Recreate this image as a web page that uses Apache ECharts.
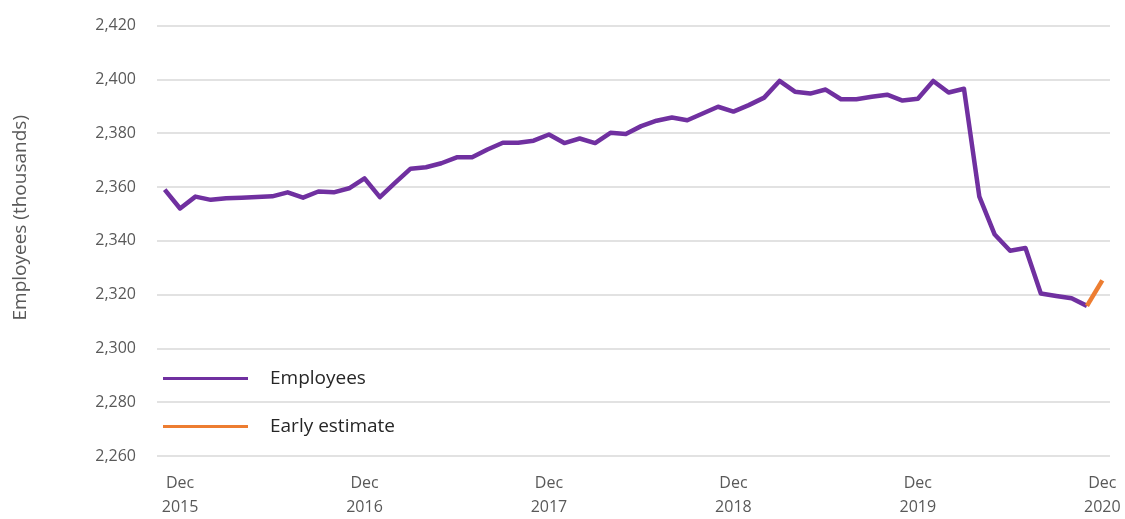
<!DOCTYPE html>
<html>
<head>
<meta charset="utf-8">
<script src="https://cdn.jsdelivr.net/npm/echarts@6/dist/echarts.min.js"></script>
<style>
  html, body { margin: 0; padding: 0; background: #fff; }
  #chart { width: 1125px; height: 519px; }
</style>
</head>
<body>
<div id="chart"></div>
<script>
// months, Nov 2015 .. Dec 2020
var months = [
  'Nov 2015', 'Dec 2015',
  'Jan 2016', 'Feb 2016', 'Mar 2016', 'Apr 2016', 'May 2016', 'Jun 2016', 'Jul 2016', 'Aug 2016', 'Sep 2016', 'Oct 2016', 'Nov 2016', 'Dec 2016',
  'Jan 2017', 'Feb 2017', 'Mar 2017', 'Apr 2017', 'May 2017', 'Jun 2017', 'Jul 2017', 'Aug 2017', 'Sep 2017', 'Oct 2017', 'Nov 2017', 'Dec 2017',
  'Jan 2018', 'Feb 2018', 'Mar 2018', 'Apr 2018', 'May 2018', 'Jun 2018', 'Jul 2018', 'Aug 2018', 'Sep 2018', 'Oct 2018', 'Nov 2018', 'Dec 2018',
  'Jan 2019', 'Feb 2019', 'Mar 2019', 'Apr 2019', 'May 2019', 'Jun 2019', 'Jul 2019', 'Aug 2019', 'Sep 2019', 'Oct 2019', 'Nov 2019', 'Dec 2019',
  'Jan 2020', 'Feb 2020', 'Mar 2020', 'Apr 2020', 'May 2020', 'Jun 2020', 'Jul 2020', 'Aug 2020', 'Sep 2020', 'Oct 2020', 'Nov 2020', 'Dec 2020'
]

// employees (thousands), Nov 2015 .. Nov 2020
var employees = [
  2359, 2352,
  2356.4, 2355.2, 2355.8, 2356, 2356.3, 2356.5, 2358, 2356, 2358.3, 2358, 2359.5, 2363.2,
  2356.2, 2361.6, 2366.8, 2367.3, 2368.8, 2371, 2371, 2373.9, 2376.4, 2376.4, 2377.2, 2379.5,
  2376.3, 2378, 2376.3, 2380.1, 2379.7, 2382.6, 2384.6, 2385.8, 2384.8, 2387.3, 2389.8, 2388,
  2390.4, 2393.2, 2399.4, 2395.4, 2394.7, 2396.2, 2392.6, 2392.6, 2393.5, 2394.3, 2392.1, 2392.8,
  2399.4, 2395.1, 2396.5, 2356.4, 2342.3, 2336.3, 2337.3, 2320.4, 2319.5, 2318.6, 2315.8, null
]

// early estimate, Nov 2020 .. Dec 2020
var earlyEstimate = employees.slice(0, 60).map(function() { return null })
earlyEstimate.push(2315.8, 2325.3)

var yTicks = { min: 2260, max: 2420, step: 20 }

var textColor = '#595959'
var font = '"Open Sans", "Noto Sans", sans-serif'

var chart = echarts.init(document.getElementById('chart'))
chart.setOption({
  animation: false,
  backgroundColor: '#ffffff',
  grid: {
    left: 157,
    right: 15,
    top: 25.5,
    bottom: 60.5
  },
  legend: [{
    orient: 'vertical',
    left: 158,
    top: 364,
    icon: 'rect',
    itemWidth: 85,
    itemHeight: 3,
    itemGap: 29,
    data: ['Employees', 'Early estimate'],
    textStyle: {
      color: '#262626',
      fontFamily: font,
      fontSize: 19,
      padding: [0, 0, 0, 17]
    }
  }],
  graphic: [{
    type: 'text',
    left: 11,
    top: 115,
    rotation: Math.PI / 2,
    style: {
      text: 'Employees (thousands)',
      fill: textColor,
      font: '19px ' + font
    }
  }],
  xAxis: {
    type: 'category',
    boundaryGap: true,
    data: months,
    axisLine: { show: false },
    axisTick: { show: false },
    splitLine: { show: false },
    axisLabel: {
      interval: function(i, v) { return v.indexOf('Dec') === 0 },
      formatter: function(v) { return v.replace(' ', '\n') },
      color: textColor,
      fontFamily: font,
      fontSize: 16,
      lineHeight: 24,
      margin: 15
    }
  },
  yAxis: {
    type: 'value',
    min: yTicks.min,
    max: yTicks.max,
    interval: yTicks.step,
    axisLine: { show: false },
    axisTick: { show: false },
    axisLabel: {
      color: textColor,
      fontFamily: font,
      fontSize: 16,
      margin: 21,
      formatter: function(v) { return v.toLocaleString('en-US') }
    },
    splitLine: {
      lineStyle: { color: '#d9d9d9', width: 1.5 }
    }
  },
  series: [{
    name: 'Employees',
    type: 'line',
    data: employees,
    symbol: 'none',
    color: '#7030a0',
    lineStyle: { width: 4.5, color: '#7030a0', join: 'round' }
  }, {
    name: 'Early estimate',
    type: 'line',
    data: earlyEstimate,
    symbol: 'none',
    color: '#ed7d31',
    lineStyle: { width: 4.5, color: '#ed7d31' }
  }]
})
</script>
</body>
</html>
